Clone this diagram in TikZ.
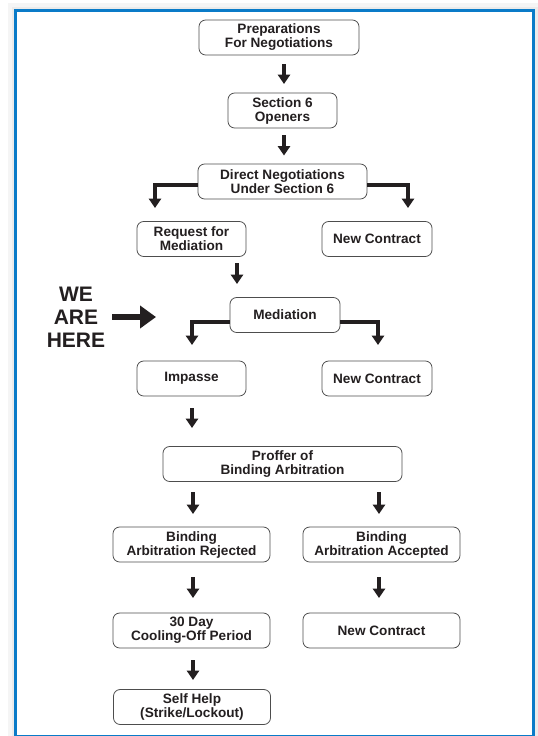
\documentclass[tikz,border=0pt]{standalone}
\usepackage{fontspec}
\setmainfont{Liberation Sans}
\usetikzlibrary{arrows.meta}
\definecolor{frameblue}{HTML}{0A7BC8}
\definecolor{ink}{HTML}{231F20}
\definecolor{boxline}{HTML}{4D4D4D}
\begin{document}
\begin{tikzpicture}[x=0.75pt,y=-0.75pt,
  box/.style={draw=boxline, line width=0.6pt, rounded corners=5pt, fill=white, align=center,
    font=\bfseries\fontsize{10.2}{10.5}\selectfont, text=ink, inner sep=0pt, minimum height=26.25pt},
  arr/.style={draw=ink, line width=2.6pt, line join=miter, -{Triangle[width=9pt,length=7pt]}},
  bigarr/.style={draw=ink, line width=4pt, -{Triangle[width=16.5pt,length=12pt]}},
  here/.style={font=\bfseries\fontsize{15.75}{17.25}\selectfont, align=center, text=ink, inner sep=0pt}]
\useasboundingbox (0,0) rectangle (537,736);
\fill[white] (0,0) rectangle (537,736);
% soft shadow
\draw[black!4, line width=6pt] (12,7) rectangle (537,745);
\draw[black!8, line width=3pt] (13.5,8.5) rectangle (535.5,742);
% frame
\draw[frameblue, line width=2.4pt] (15.5,10.5) rectangle (533.5,736.8);

% boxes
\node[box, minimum width=120pt] (prep) at (279,37.5) {Preparations\\For Negotiations};
\node[box, minimum width=81.75pt] (sec6) at (282.5,110.5) {Section 6\\Openers};
\node[box, minimum width=126.75pt] (direct) at (282.5,181.5) {Direct Negotiations\\Under Section 6};
\node[box, minimum width=81.75pt] (req) at (191.5,239) {Request for\\Mediation};
\node[box, minimum width=82.5pt] (nc1) at (377,239) {New Contract};
\node[box, minimum width=82.5pt] (med) at (285,315) {Mediation};
\node[box, minimum width=81.75pt] (imp) at (191.5,378.5) {Impasse};
\node[box, minimum width=82.5pt] (nc2) at (377,378.5) {New Contract};
\node[box, minimum width=179.25pt] (proffer) at (282.5,464) {Proffer of\\Binding Arbitration};
\node[box, minimum width=117.75pt] (bar) at (191.5,544.5) {Binding\\Arbitration Rejected};
\node[box, minimum width=117.75pt] (baa) at (381.5,544.5) {Binding\\Arbitration Accepted};
\node[box, minimum width=117.75pt] (cool) at (191.5,630.5) {30 Day\\Cooling-Off Period};
\node[box, minimum width=117.75pt] (nc3) at (381.5,630.5) {New Contract};
\node[box, minimum width=117.75pt] (self) at (192,707) {Self Help\\(Strike/Lockout)};

\node[here] (we) at (76,317) {WE\\ARE\\HERE};

% arrow coordinates
\coordinate (a1s) at (284,64);  \coordinate (a1e) at (284,84);
\coordinate (a2s) at (284,135); \coordinate (a2e) at (284,155.5);
\coordinate (a3s) at (237,263); \coordinate (a3e) at (237,284);
\coordinate (a4s) at (192,408); \coordinate (a4e) at (192,428);
\coordinate (a5s) at (193,492); \coordinate (a5e) at (193,514);
\coordinate (a6s) at (379,492); \coordinate (a6e) at (379,514);
\coordinate (a7s) at (193,577); \coordinate (a7e) at (193,598);
\coordinate (a8s) at (379,577); \coordinate (a8e) at (379,598);
\coordinate (a9s) at (193,660); \coordinate (a9e) at (193,680);
\coordinate (dl) at (155,208); \coordinate (dr) at (408,208);
\coordinate (ml) at (192,345); \coordinate (mr) at (378,345);
\coordinate (hs) at (112,317); \coordinate (he) at (156,317);

\foreach \i in {1,...,9} {\draw[arr] (a\i s) -- (a\i e);}
\draw[arr] (direct.west |- 0,185) -| (dl);
\draw[arr] (direct.east |- 0,185) -| (dr);
\draw[arr] (med.west |- 0,322) -| (ml);
\draw[arr] (med.east |- 0,322) -| (mr);
\draw[bigarr] (hs) -- (he);
\end{tikzpicture}
\end{document}
